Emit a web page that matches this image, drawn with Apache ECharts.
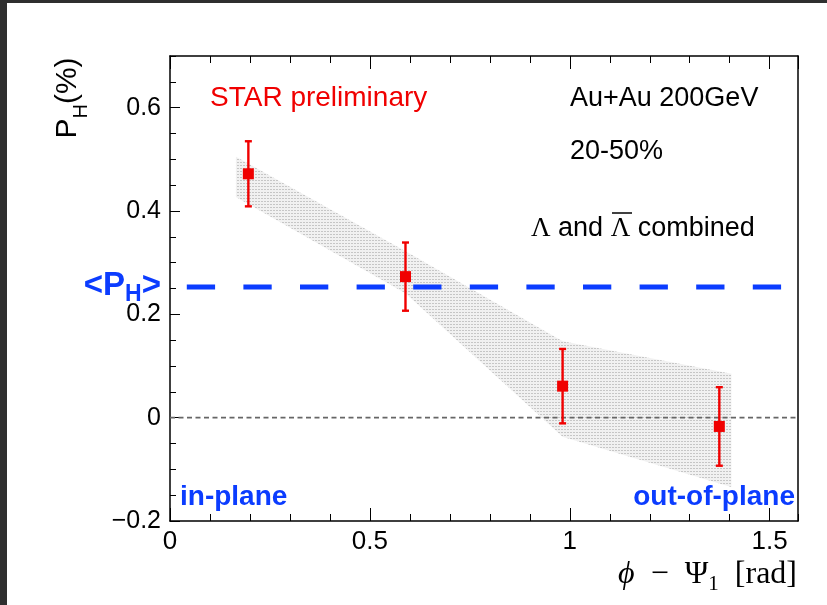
<!DOCTYPE html>
<html>
<head>
<meta charset="utf-8">
<script src="https://cdn.jsdelivr.net/npm/echarts@6/dist/echarts.min.js"></script>
<style>
  html, body { margin: 0; padding: 0; background: #ffffff; }
  #chart { width: 827px; height: 605px; }
</style>
</head>
<body>
<div id="chart"></div>
<script>
// Lambda global polarization versus azimuthal angle relative to the first-order event plane
const phiBins    = [0.196, 0.589, 0.982, 1.374];
const polValues  = [0.472, 0.273, 0.061, -0.017];
const statErrors = [0.063, 0.066, 0.072, 0.076];

// outline of the systematic-uncertainty band (upper and lower edges)
const bandX    = [0.165, 0.589, 0.982, 1.404];
const bandHigh = [0.505, 0.322, 0.148, 0.085];
const bandLow  = [0.427, 0.241, -0.037, -0.134];

// phi-averaged polarization <P_H>
const meanPol   = 0.253;
const meanLineX = [0.042, 1.530];

const xTickLabels = ['0', '0.5', '1', '1.5'];
const yTickLabels = ['\u22120.2', '0', '0.2', '0.4', '0.6'];

const X_MAX = Math.PI / 2;
const RED = '#f00000';
const BLUE = '#0b3cff';
const SANS = "'Liberation Sans', Arial, sans-serif";
const SERIF = "'Liberation Serif', 'DejaVu Serif', serif";

// dotted grey fill used for the systematic band
function dotPattern() {
  const c = document.createElement('canvas');
  c.width = 3; c.height = 3;
  const g = c.getContext('2d');
  g.fillStyle = '#f1f1f1';
  g.fillRect(0, 0, 3, 3);
  g.fillStyle = '#c6c6c6';
  g.fillRect(0, 0, 2, 1);
  return c;
}
const bandFill = { image: dotPattern(), repeat: 'repeat' };

function fmtTick(list, ticks) {
  return function (v) {
    for (let i = 0; i < ticks.length; i++) {
      if (Math.abs(v - ticks[i]) < 1e-6) return list[i];
    }
    return '';
  };
}

const chart = echarts.init(document.getElementById('chart'), null, { renderer: 'canvas' });

const frameLine = { show: true, onZero: false, lineStyle: { color: '#000', width: 1.5 } };
const noLine = { show: false, onZero: false };
const tickStyle = { color: '#000', width: 1 };

const option = {
  animation: false,
  backgroundColor: '#ffffff',
  grid: { left: 170, top: 56, right: 29, bottom: 84, containLabel: false },
  xAxis: [
    { // bottom, major ticks and labels
      type: 'value', position: 'bottom', min: 0, max: X_MAX, interval: 0.5,
      axisLine: frameLine,
      axisTick: { show: true, inside: true, length: 13, lineStyle: tickStyle },
      axisLabel: { show: true, margin: 8, fontSize: 26, fontFamily: SANS, color: '#000',
                   showMaxLabel: false, formatter: fmtTick(xTickLabels, [0, 0.5, 1, 1.5]) },
      splitLine: { show: false }
    },
    { // bottom, minor ticks
      type: 'value', position: 'bottom', min: 0, max: X_MAX, interval: 0.1,
      axisLine: noLine,
      axisTick: { show: true, inside: true, length: 7, lineStyle: tickStyle },
      axisLabel: { show: false }, splitLine: { show: false }
    },
    { // top frame, major ticks
      type: 'value', position: 'top', min: 0, max: X_MAX, interval: 0.5,
      axisLine: frameLine,
      axisTick: { show: true, inside: true, length: 13, lineStyle: tickStyle },
      axisLabel: { show: false }, splitLine: { show: false }
    },
    { // top frame, minor ticks
      type: 'value', position: 'top', min: 0, max: X_MAX, interval: 0.1,
      axisLine: noLine,
      axisTick: { show: true, inside: true, length: 7, lineStyle: tickStyle },
      axisLabel: { show: false }, splitLine: { show: false }
    }
  ],
  yAxis: [
    { // left, major ticks and labels
      type: 'value', position: 'left', min: -0.2, max: 0.7, interval: 0.2,
      axisLine: frameLine,
      axisTick: { show: true, inside: true, length: 10, lineStyle: tickStyle },
      axisLabel: { show: true, margin: 9, fontSize: 25, fontFamily: SANS, color: '#000',
                   showMaxLabel: false, formatter: fmtTick(yTickLabels, [-0.2, 0, 0.2, 0.4, 0.6]) },
      splitLine: { show: false }
    },
    { // left, minor ticks
      type: 'value', position: 'left', min: -0.2, max: 0.7, interval: 0.05,
      axisLine: noLine,
      axisTick: { show: true, inside: true, length: 6, lineStyle: tickStyle },
      axisLabel: { show: false }, splitLine: { show: false }
    },
    { // right frame edge
      type: 'value', position: 'right', min: -0.2, max: 0.7, interval: 0.2,
      axisLine: frameLine, axisTick: { show: false }, axisLabel: { show: false },
      splitLine: { show: false }
    }
  ],
  series: [
    { // systematic band
      type: 'custom', xAxisIndex: 0, yAxisIndex: 0, z: 1,
      data: [0],
      renderItem: function (params, api) {
        const pts = [];
        for (let i = 0; i < bandX.length; i++) pts.push(api.coord([bandX[i], bandHigh[i]]));
        for (let i = bandX.length - 1; i >= 0; i--) pts.push(api.coord([bandX[i], bandLow[i]]));
        return { type: 'polygon', shape: { points: pts }, style: { fill: bandFill, stroke: null } };
      }
    },
    { // zero reference
      type: 'line', xAxisIndex: 0, yAxisIndex: 0, z: 2,
      data: [[0, 0], [X_MAX, 0]],
      symbol: 'none', silent: true,
      lineStyle: { color: '#666666', width: 1.8, type: [5, 3.5] }
    },
    { // mean polarization
      type: 'line', xAxisIndex: 0, yAxisIndex: 0, z: 3,
      data: meanLineX.map(function (x) { return [x, meanPol]; }),
      symbol: 'none', silent: true,
      lineStyle: { color: BLUE, width: 5, type: [28.3, 28.3], cap: 'butt' }
    },
    { // statistical error bars
      type: 'custom', xAxisIndex: 0, yAxisIndex: 0, z: 4,
      data: phiBins.map(function (x, i) {
        return [x, polValues[i] - statErrors[i], polValues[i] + statErrors[i]];
      }),
      renderItem: function (params, api) {
        const lo = api.coord([api.value(0), api.value(1)]);
        const hi = api.coord([api.value(0), api.value(2)]);
        const w = 3.5;
        const st = { stroke: RED, lineWidth: 2.4 };
        return {
          type: 'group',
          children: [
            { type: 'line', shape: { x1: lo[0], y1: lo[1], x2: hi[0], y2: hi[1] }, style: st },
            { type: 'line', shape: { x1: lo[0] - w, y1: lo[1], x2: lo[0] + w, y2: lo[1] }, style: st },
            { type: 'line', shape: { x1: hi[0] - w, y1: hi[1], x2: hi[0] + w, y2: hi[1] }, style: st }
          ]
        };
      }
    },
    { // measured points
      type: 'scatter', xAxisIndex: 0, yAxisIndex: 0, z: 5,
      data: phiBins.map(function (x, i) { return [x, polValues[i]]; }),
      symbol: 'rect', symbolSize: 11,
      itemStyle: { color: RED, opacity: 1 }
    }
  ],
  graphic: [
    { type: 'rect', shape: { x: 0, y: 0, width: 827, height: 3 }, style: { fill: '#2f2f2f' }, z: 100 },
    { type: 'rect', shape: { x: 0, y: 0, width: 7, height: 605 }, style: { fill: '#2f2f2f' }, z: 100 },
    { type: 'text', x: 210, y: 98, z: 50,
      style: { text: 'STAR preliminary', font: '28px ' + SANS, fill: RED, align: 'left', verticalAlign: 'middle' } },
    { type: 'text', x: 570, y: 99, z: 50,
      style: { text: 'Au+Au 200GeV', font: '27px ' + SANS, fill: '#000', align: 'left', verticalAlign: 'middle' } },
    { type: 'text', x: 570, y: 152, z: 50,
      style: { text: '20-50%', font: '27px ' + SANS, fill: '#000', align: 'left', verticalAlign: 'middle' } },
    { type: 'text', x: 531, y: 229, z: 50,
      style: {
        text: '{g|\u039B}{t| and }{g|\u039B}{t| combined}',
        align: 'left', verticalAlign: 'middle',
        rich: {
          g: { fontFamily: SERIF, fontSize: 27, fill: '#000' },
          t: { fontFamily: SANS, fontSize: 27, fill: '#000' }
        }
      } },
    { type: 'line', z: 50, shape: { x1: 612, y1: 213, x2: 632, y2: 213 }, style: { stroke: '#000', lineWidth: 1.5 } },
    { type: 'text', x: 161, y: 288, z: 50,
      style: {
        text: '{b|<P}{s|H}{b|>}',
        align: 'right', verticalAlign: 'middle',
        rich: {
          b: { fontFamily: SANS, fontWeight: 'bold', fontSize: 33, fill: BLUE, verticalAlign: 'top', lineHeight: 33 },
          s: { fontFamily: SANS, fontWeight: 'bold', fontSize: 23, fill: BLUE, verticalAlign: 'bottom', lineHeight: 37 }
        }
      } },
    { type: 'text', x: 180, y: 497, z: 50,
      style: { text: 'in-plane', font: 'bold 28px ' + SANS, fill: BLUE, align: 'left', verticalAlign: 'middle' } },
    { type: 'text', x: 795, y: 497, z: 50,
      style: { text: 'out-of-plane', font: 'bold 28px ' + SANS, fill: BLUE, align: 'right', verticalAlign: 'middle' } },
    { type: 'text', x: 72, y: 98, z: 50, rotation: Math.PI / 2,
      style: {
        text: '{a|P}{s|H}{a|(%)}',
        align: 'center', verticalAlign: 'middle',
        rich: {
          a: { fontFamily: SANS, fontSize: 30, fill: '#000', verticalAlign: 'top', lineHeight: 32 },
          s: { fontFamily: SANS, fontSize: 20, fill: '#000', verticalAlign: 'bottom', lineHeight: 38 }
        }
      } },
    { type: 'text', x: 797, y: 577, z: 50,
      style: {
        text: '{i|\u03D5}{r|  \u2212  }{r|\u03A8}{s|1}{r|  [rad]}',
        align: 'right', verticalAlign: 'middle',
        rich: {
          i: { fontFamily: SERIF, fontStyle: 'italic', fontSize: 32, fill: '#000', verticalAlign: 'top', lineHeight: 32 },
          r: { fontFamily: SERIF, fontSize: 32, fill: '#000', verticalAlign: 'top', lineHeight: 32 },
          s: { fontFamily: SERIF, fontSize: 21, fill: '#000', verticalAlign: 'bottom', lineHeight: 36 }
        }
      } }
  ]
};

chart.setOption(option);
</script>
</body>
</html>
